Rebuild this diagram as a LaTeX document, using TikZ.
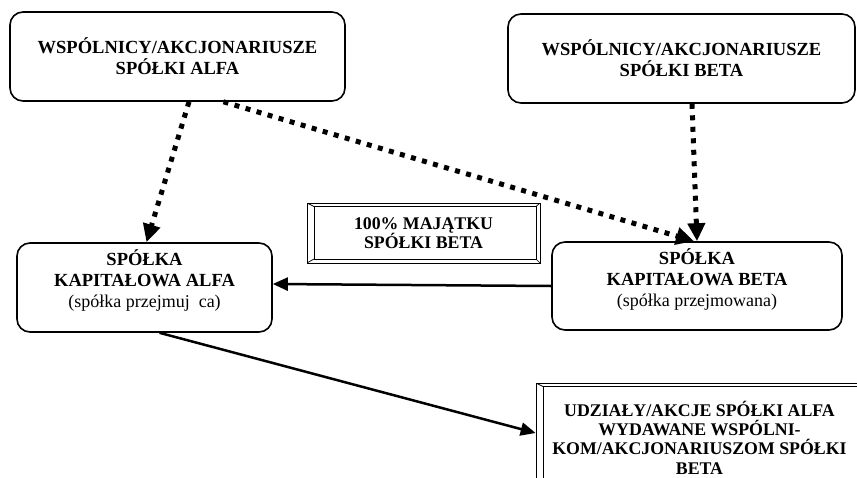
\documentclass[tikz,border=0pt]{standalone}
\usepackage{fontspec}
\setmainfont{Liberation Serif}
\usetikzlibrary{arrows.meta}

\tikzset{
  roundbox/.style={draw, line width=1.6pt, rounded corners=13pt, fill=white},
  headtext/.style={align=center, font=\fontsize{18.5}{21}\selectfont\bfseries},
  bevelbox/.style={draw, line width=0.7pt, fill=white, align=center,
    font=\fontsize{17.8}{19.4}\selectfont\bfseries,
    path picture={
      \draw[line width=0.7pt] ([shift={(7pt,-3.5pt)}]path picture bounding box.north west)
        rectangle ([shift={(-4pt,4pt)}]path picture bounding box.south east);
      \draw[line width=0.7pt] (path picture bounding box.north west) -- ++(7pt,-3.5pt)
        (path picture bounding box.north east) -- ++(-4pt,-3.5pt)
        (path picture bounding box.south west) -- ++(7pt,4pt)
        (path picture bounding box.south east) -- ++(-4pt,4pt);
    }},
  dotarrow/.style={line width=5pt, dash pattern=on 5pt off 6.5pt,
    -{Triangle[length=18pt,width=17pt]}},
  fullarrow/.style={line width=2.5pt, -{Triangle[length=15pt,width=13pt]}},
}
\newcommand{\subline}[1]{{\mdseries\fontsize{18}{21}\selectfont #1}}

\begin{document}
\begin{tikzpicture}[x=1pt, y=-1pt]
  \useasboundingbox (0,0) rectangle (857,477);
  \clip (0,0) rectangle (857,477);

  % shareholders
  \node[roundbox, headtext, minimum width=335pt, minimum height=89pt] (shareA) at (177.5,56.5)
    {WSPÓLNICY/AKCJONARIUSZE\\SPÓŁKI ALFA};
  \node[roundbox, headtext, minimum width=347pt, minimum height=89pt] (shareB) at (681.5,58.5)
    {WSPÓLNICY/AKCJONARIUSZE\\SPÓŁKI BETA};

  % companies
  \node[roundbox, minimum width=255pt, minimum height=89pt] (capA) at (144.5,287.5) {};
  \node[headtext] (capA-txt) at ([yshift=7pt]capA.center)
    {SPÓŁKA\\KAPITAŁOWA ALFA\\\subline{(spółka przejmuj\ \ ca)}};
  \node[roundbox, minimum width=290pt, minimum height=88pt] (capB) at (697,286) {};
  \node[headtext] (capB-txt) at ([yshift=7pt]capB.center)
    {SPÓŁKA\\KAPITAŁOWA BETA\\\subline{(spółka przejmowana)}};

  % bevel boxes
  \node[bevelbox, minimum width=233pt, minimum height=60pt] (assets) at (423.5,233)
    {100\% MAJĄTKU\\SPÓŁKI BETA};
  \node[bevelbox, minimum width=327pt, minimum height=109pt] (shares) at (699.5,437.5)
    {UDZIAŁY/AKCJE SPÓŁKI ALFA\\WYDAWANE WSPÓLNI-\\KOM/AKCJONARIUSZOM SPÓŁKI\\BETA};

  % connectors
  \draw[dotarrow] ([xshift=11.5pt]shareA.south) -- ([xshift=2pt]capA.north);
  \draw[dotarrow] ([xshift=46pt]shareA.south) -- ([xshift=-3pt]capB.north);
  \draw[dotarrow] ([xshift=10.5pt]shareB.south) -- (capB.north);
  \draw[fullarrow] (capB.west) -- ([yshift=3.5pt]capA.east);
  \draw[fullarrow] ([xshift=15pt]capA.south) -- ([yshift=4.5pt]shares.west);
\end{tikzpicture}
\end{document}
